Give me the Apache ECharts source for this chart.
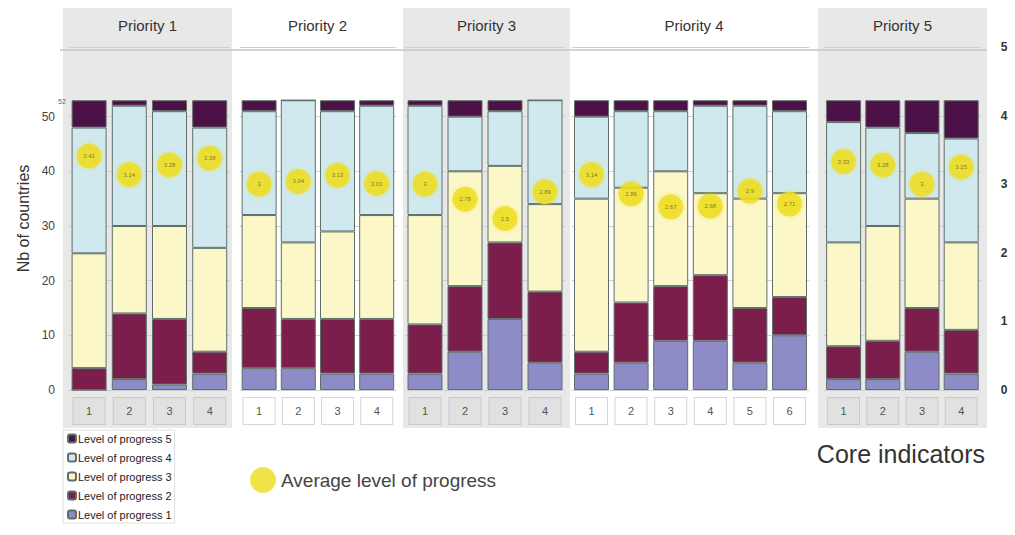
<!DOCTYPE html>
<html>
<head>
<meta charset="utf-8">
<script src="https://cdn.jsdelivr.net/npm/echarts@6/dist/echarts.min.js"></script>
<style>html,body{margin:0;padding:0;background:#fff}#chart{width:1015px;height:535px}</style>
</head>
<body>
<div id="chart"></div>
<script>
// ---------- DATA ----------
const priorities = ['Priority 1', 'Priority 2', 'Priority 3', 'Priority 4', 'Priority 5'];
const groupSizes = [4, 4, 4, 6, 4];
const p1Cats = ['1', '2', '3', '4'];
const p2Cats = ['1', '2', '3', '4'];
const p3Cats = ['1', '2', '3', '4'];
const p4Cats = ['1', '2', '3', '4', '5', '6'];
const p5Cats = ['1', '2', '3', '4'];
const levelNames = ['Level of progress 1', 'Level of progress 2', 'Level of progress 3', 'Level of progress 4', 'Level of progress 5'];
// number of countries per level, 22 core indicators (P1 x4, P2 x4, P3 x4, P4 x6, P5 x4)
const level1 = [0, 2, 1, 3,   4, 4, 3, 3,   3, 7, 13, 5,   3, 5, 9, 9, 5, 10,   2, 2, 7, 3];
const level2 = [4, 12, 12, 4, 11, 9, 10, 10, 9, 12, 14, 13, 4, 11, 10, 12, 10, 7, 6, 7, 8, 8];
const level3 = [21, 16, 17, 19, 17, 14, 16, 19, 20, 21, 14, 16, 28, 21, 21, 15, 20, 19, 19, 21, 20, 16];
const level4 = [23, 22, 21, 22, 19, 26, 22, 20, 20, 10, 10, 19, 15, 14, 11, 16, 17, 15, 22, 18, 12, 19];
const level5 = [5, 1, 2, 5,   2, 0, 2, 1,   1, 3, 2, 0,   3, 2, 2, 1, 1, 2,   4, 5, 6, 7];
const avgLevel = [3.41, 3.14, 3.28, 3.38, 3, 3.04, 3.13, 3.01, 3, 2.78, 2.5, 2.89, 3.14, 2.86, 2.67, 2.68, 2.9, 2.71, 3.33, 3.28, 3, 3.25];
const leftTicks = [0, 10, 20, 30, 40, 50];
const rightTicks = [0, 1, 2, 3, 4, 5];

// ---------- STYLE / LAYOUT ----------
const catsByGroup = [p1Cats, p2Cats, p3Cats, p4Cats, p5Cats];
const levels = [level1, level2, level3, level4, level5];
const levelColors = ['#8e8cc6', '#7b1e4c', '#fbf7c9', '#cfe9ef', '#4c1146'];
const groupLeft = [69, 239.5, 405, 571.7, 824];
const groupSlot = [40.2, 39.2, 40, 39.6, 39.2];
const colEdges = [63, 232, 403, 570, 818, 987];
const greyCol = [true, false, true, false, true];
const gridTop = 47, gridBottomY = 390;
const pxPerCountry = 5.467;
const leftMax = (gridBottomY - gridTop) / pxPerCountry;
const font = "'Liberation Sans', Arial, sans-serif";

const grids = [], xAxes = [], yAxes = [], series = [];
let offset = 0;
groupSizes.forEach((n, g) => {
  grids.push({ left: groupLeft[g], top: gridTop, width: groupSlot[g] * n, height: gridBottomY - gridTop, outerBoundsMode: 'none', containLabel: false });
  xAxes.push({
    gridIndex: g, type: 'category', data: catsByGroup[g],
    axisLine: { show: false }, axisTick: { show: false },
    axisLabel: {
      margin: 8, width: 31, height: 26, lineHeight: 26, align: 'center',
      backgroundColor: greyCol[g] ? '#e1e1e1' : '#ffffff',
      borderColor: greyCol[g] ? '#c9c9c9' : '#d6d6d6', borderWidth: 1,
      color: '#555', fontSize: 11, fontFamily: font
    }
  });
  yAxes.push({
    gridIndex: g, type: 'value', min: 0, max: leftMax, interval: 10, position: 'left',
    name: g === 0 ? 'Nb of countries' : '', nameLocation: 'middle', nameGap: 38,
    nameTextStyle: { fontSize: 16, color: '#333', fontFamily: font },
    axisLine: { show: false }, axisTick: { show: false },
    axisLabel: { show: g === 0, margin: 14, color: '#444', fontSize: 12, fontFamily: font,
      formatter: v => (leftTicks.indexOf(v) >= 0 ? String(v) : '') },
    splitLine: { show: true, lineStyle: { color: ['#cfcfcf', '#cfcfcf', '#cfcfcf', '#cfcfcf', '#cfcfcf', '#cfcfcf', 'rgba(0,0,0,0)'], width: 1 } }
  });
  yAxes.push({
    gridIndex: g, type: 'value', min: 0, max: 5, interval: 1, position: 'right', show: g === 4,
    axisLine: { show: false }, axisTick: { show: false }, splitLine: { show: false },
    axisLabel: { margin: 20, color: '#333', fontSize: 12, fontWeight: 'bold', fontFamily: font,
      formatter: v => (rightTicks.indexOf(v) >= 0 ? String(v) : '') }
  });
  for (let k = 0; k < 5; k++) {
    series.push({
      name: levelNames[k], type: 'bar', stack: 'g' + g, xAxisIndex: g, yAxisIndex: 2 * g,
      barWidth: 35, data: levels[k].slice(offset, offset + n),
      itemStyle: { color: levelColors[k], borderColor: '#5f6e68', borderWidth: 1 },
      emphasis: { disabled: true }, z: 2
    });
  }
  series.push({
    name: 'Average level of progress', type: 'scatter', xAxisIndex: g, yAxisIndex: 2 * g + 1,
    data: avgLevel.slice(offset, offset + n), symbol: 'circle', symbolSize: 25,
    itemStyle: { color: '#eedd1e', shadowColor: 'rgba(238,221,30,0.6)', shadowBlur: 4 },
    label: { show: true, position: 'inside', fontSize: 6, color: '#6a5a20', fontFamily: font, formatter: p => String(p.value) },
    z: 5
  });
  offset += n;
});

const graphics = [];
for (let g = 0; g < 5; g++) {
  if (greyCol[g]) {
    graphics.push({ type: 'rect', z: -10, shape: { x: colEdges[g], y: 8, width: colEdges[g + 1] - colEdges[g], height: 420 }, style: { fill: '#e8e8e8' } });
  }
  graphics.push({ type: 'text', z: 10, x: (colEdges[g] + colEdges[g + 1]) / 2, y: 25,
    style: { text: priorities[g], fontSize: 15, fill: '#333', font: "15px 'Liberation Sans', Arial, sans-serif", textAlign: 'center', textVerticalAlign: 'middle' } });
}
graphics.push({ type: 'line', z: -5, shape: { x1: 60, y1: 50, x2: 987, y2: 50 }, style: { stroke: '#c6c6c6', lineWidth: 1.5 } });
graphics.push({ type: 'text', z: 10, x: 58, y: 98, style: { text: '52', font: "7px 'Liberation Sans', Arial, sans-serif", fill: '#666' } });

const chart = echarts.init(document.getElementById('chart'), null, { renderer: 'svg' });
chart.setOption({
  animation: false,
  backgroundColor: '#fff',
  textStyle: { fontFamily: font },
  title: { text: 'Core indicators', right: 25, top: 436, textStyle: { fontSize: 25, fontWeight: 'normal', color: '#333', fontFamily: font } },
  legend: [
    { data: levelNames.slice().reverse(), orient: 'vertical', left: 63, top: 430, height: 104, itemWidth: 8, itemHeight: 8, itemGap: 8,
      borderColor: '#dedede', borderWidth: 1, padding: [3, 3, 3, 4], selectedMode: false,
      textStyle: { fontSize: 11, color: '#222', padding: [0, 0, 0, -3] } },
    { data: ['Average level of progress'], left: 245, top: 462, itemWidth: 26, itemHeight: 26, icon: 'circle', selectedMode: false,
      textStyle: { fontSize: 19, color: '#444' } }
  ],
  grid: grids,
  xAxis: xAxes,
  yAxis: yAxes,
  series: series,
  graphic: { elements: graphics }
});
</script>
</body>
</html>
